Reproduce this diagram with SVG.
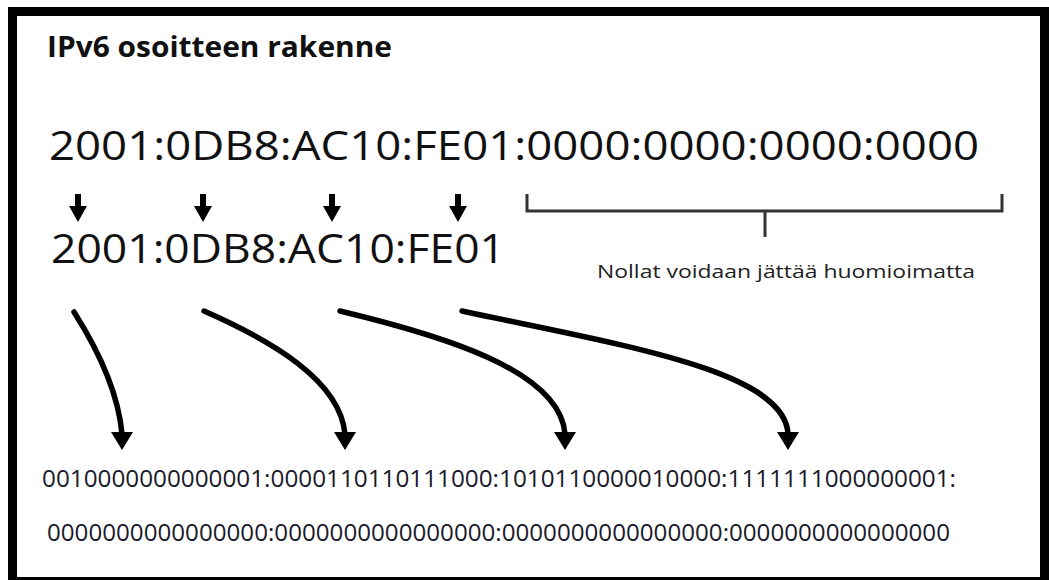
<svg xmlns="http://www.w3.org/2000/svg" width="1049" height="580" viewBox="0 0 1049 580">
<style>
  text { font-family: "Open Sans", "Liberation Sans", sans-serif; fill: #111; }
  .title { font-weight: bold; font-size: 28px; }
  .big { font-size: 41px; }
  .note { font-size: 19px; fill: #222; }
  .bin { font-size: 23px; fill: #1a1a2a; }
  .curve { fill: none; stroke: #000; stroke-width: 5.5; stroke-linecap: round; }
  .head { fill: #000; }
  .brace { fill: none; stroke: #333; stroke-width: 3; }
</style>
<defs>
  <g id="smallArrow">
    <rect x="-3" y="0" width="6" height="14" fill="#000"/>
    <polygon points="-9,12 9,12 0,28" fill="#000"/>
  </g>
  <polygon id="bigHead" points="-11,0 11,0 0,18" fill="#000"/>
</defs>
<rect x="0" y="0" width="1049" height="580" fill="#fff"/>
<rect id="frame" x="12.5" y="11.5" width="1032" height="570" fill="none" stroke="#000" stroke-width="9"/>

<g id="title"><text class="title" x="47" y="57" textLength="345" lengthAdjust="spacingAndGlyphs">IPv6 osoitteen rakenne</text></g>

<g id="full-address"><text class="big" x="49" y="160" textLength="930" lengthAdjust="spacingAndGlyphs">2001:0DB8:AC10:FE01:0000:0000:0000:0000</text></g>

<g id="short-address"><text class="big" x="51" y="263" textLength="454" lengthAdjust="spacingAndGlyphs">2001:0DB8:AC10:FE01</text></g>

<g id="zero-bracket">
  <path class="brace" d="M527,194 V211 H1002 V194 M765,211 V237"/>
  <text class="note" x="597" y="278" textLength="378" lengthAdjust="spacingAndGlyphs">Nollat voidaan jättää huomioimatta</text>
</g>

<g id="binary">
  <text class="bin" x="42" y="487" textLength="914" lengthAdjust="spacingAndGlyphs">0010000000000001:0000110110111000:1010110000010000:1111111000000001:</text>
  <text class="bin" x="47" y="541" textLength="903" lengthAdjust="spacingAndGlyphs">0000000000000000:0000000000000000:0000000000000000:0000000000000000</text>
</g>

<g id="connectors">
  <use href="#smallArrow" x="78" y="194"/>
  <use href="#smallArrow" x="203" y="194"/>
  <use href="#smallArrow" x="332" y="194"/>
  <use href="#smallArrow" x="458" y="194"/>

  <path class="curve" d="M74,312 C95,345 118,390 122,434"/>
  <use href="#bigHead" x="122" y="432"/>
  <path class="curve" d="M204,311 C270,340 340,380 345,434"/>
  <use href="#bigHead" x="345" y="432"/>
  <path class="curve" d="M340,311 C440,335 560,370 565,434"/>
  <use href="#bigHead" x="565" y="432"/>
  <path class="curve" d="M462,311 C620,345 785,370 788,434"/>
  <use href="#bigHead" x="788" y="432"/>
</g>
</svg>
